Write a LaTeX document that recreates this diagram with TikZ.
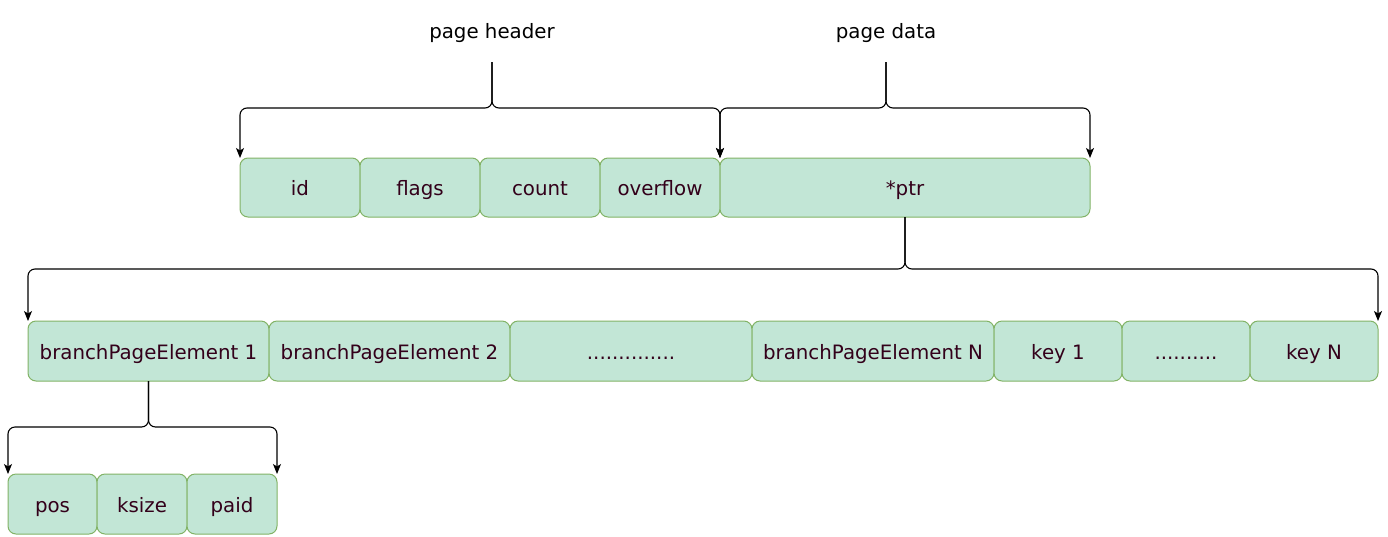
\documentclass[tikz,border=0pt]{standalone}
\usepackage{fontspec}
\setmainfont{DejaVu Sans}
\usetikzlibrary{arrows.meta}
\definecolor{boxfill}{RGB}{194,230,214}
\definecolor{boxline}{RGB}{130,179,102}
\definecolor{boxtext}{RGB}{51,0,26}
\begin{document}
\begin{tikzpicture}[x=1pt,y=-1pt,
  cell/.style={draw=boxline, fill=boxfill, line width=1pt, rounded corners=8pt,
    text=boxtext, inner sep=0pt, outer sep=0pt, anchor=north west,
    text height=17.5pt, text depth=1.5pt,
    font=\fontsize{19.8}{23}\selectfont},
  lbl/.style={font=\fontsize{19.8}{23}\selectfont, text=black},
  conn/.style={draw=black, line width=1.1pt, rounded corners=7pt,
    -{Stealth[length=10pt,width=8pt,inset=2.5pt]}}]
\useasboundingbox (0,0) rectangle (1388,536);
% row 1
\node[cell, minimum width=120pt, minimum height=59pt] (id) at (240,158) {id};
\node[cell, minimum width=120pt, minimum height=59pt] (flags) at (360,158) {flags};
\node[cell, minimum width=120pt, minimum height=59pt] (count) at (480,158) {count};
\node[cell, minimum width=120pt, minimum height=59pt] (overflow) at (600,158) {overflow};
\node[cell, minimum width=370pt, minimum height=59pt] (ptr) at (720,158) {*ptr};
% row 2
\node[cell, minimum width=241pt, minimum height=60pt] (bpe1) at (28,321) {branchPageElement 1};
\node[cell, minimum width=241pt, minimum height=60pt] (bpe2) at (269,321) {branchPageElement 2};
\node[cell, minimum width=242pt, minimum height=60pt] (dots1) at (510,321) {..............};
\node[cell, minimum width=242pt, minimum height=60pt] (bpen) at (752,321) {branchPageElement N};
\node[cell, minimum width=128pt, minimum height=60pt] (key1) at (994,321) {key 1};
\node[cell, minimum width=128pt, minimum height=60pt] (dots2) at (1122,321) {..........};
\node[cell, minimum width=128pt, minimum height=60pt] (keyn) at (1250,321) {key N};
% row 3
\node[cell, minimum width=89pt, minimum height=60pt] (pos) at (8,474) {pos};
\node[cell, minimum width=90pt, minimum height=60pt] (ksize) at (97,474) {ksize};
\node[cell, minimum width=90pt, minimum height=60pt] (paid) at (187,474) {paid};
% labels
\node[lbl] (ph) at (492,33.5) {page header};
\node[lbl] (pd) at (886,33.5) {page data};
\coordinate (phs) at (492,62);
\coordinate (pds) at (886,62);
% braces
\draw[conn] (phs) -- ++(0,46) -| (id.north west);
\draw[conn] (phs) -- ++(0,46) -| (overflow.north east);
\draw[conn] (pds) -- ++(0,46) -| (ptr.north west);
\draw[conn] (pds) -- ++(0,46) -| (ptr.north east);
\draw[conn] (ptr.south) -- ++(0,52) -| (bpe1.north west);
\draw[conn] (ptr.south) -- ++(0,52) -| (keyn.north east);
\draw[conn] (bpe1.south) -- ++(0,46) -| (pos.north west);
\draw[conn] (bpe1.south) -- ++(0,46) -| (paid.north east);
\end{tikzpicture}
\end{document}
